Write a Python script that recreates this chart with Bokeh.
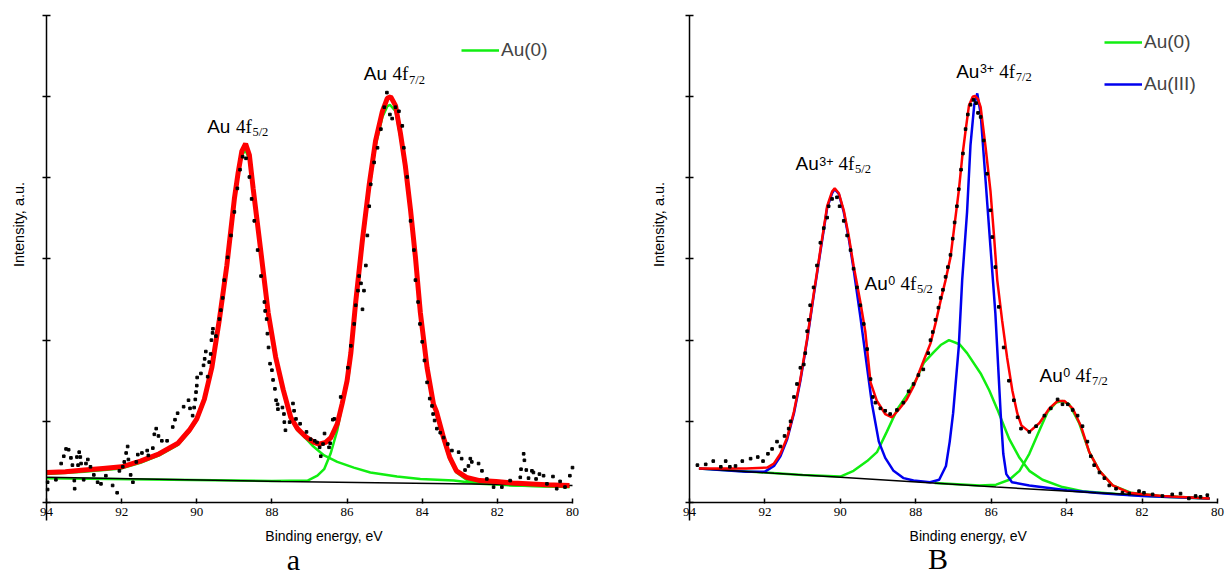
import math
from bokeh.plotting import figure
from bokeh.models import Label, Legend, LegendItem, FixedTicker
from bokeh.layouts import row
from bokeh.embed import file_html
from bokeh.resources import INLINE

# ---------------- data: panel a ----------------
x_ticks = [94, 92, 90, 88, 86, 84, 82, 80]
y_ticks = [0, 1, 2, 3, 4, 5, 6]

a_base_E = [94.0, 87.76, 80.0]
a_base_I = [0.31, 0.26, 0.21]

a_fit_E = [94.0, 93.5, 93.0, 92.5, 92.0, 91.5, 91.0, 90.5, 90.2, 90.0, 89.8, 89.6, 89.4, 89.2,
           89.0, 88.9, 88.8, 88.7, 88.6, 88.5, 88.3, 88.1, 87.9, 87.7, 87.5, 87.32, 87.1, 86.88,
           86.75, 86.57, 86.43, 86.26, 86.13, 86.0, 85.9, 85.77, 85.59, 85.41, 85.24, 85.06,
           84.93, 84.84, 84.71, 84.58, 84.45, 84.31, 84.18, 84.05, 83.87, 83.7, 83.62, 83.44,
           83.27, 83.09, 82.82, 82.47, 82.03, 81.59, 80.7, 80.08]
a_fit_I = [0.37, 0.38, 0.40, 0.42, 0.44, 0.51, 0.60, 0.73, 0.89, 1.03, 1.27, 1.66, 2.25, 2.92,
           3.74, 4.06, 4.33, 4.42, 4.28, 3.87, 3.11, 2.34, 1.79, 1.39, 1.05, 0.91, 0.81, 0.74,
           0.72, 0.74, 0.80, 0.97, 1.22, 1.50, 1.84, 2.47, 3.24, 3.92, 4.46, 4.82,
           4.98, 5.00, 4.89, 4.55, 4.15, 3.60, 3.02, 2.34, 1.66, 1.21, 1.12, 0.81,
           0.56, 0.39, 0.31, 0.27, 0.26, 0.24, 0.22, 0.21]

a_au0_52_E = [94.0, 93.0, 92.0, 91.5, 91.0, 90.5, 90.2, 90.0, 89.8, 89.6, 89.4, 89.2, 89.0, 88.9,
              88.8, 88.7, 88.6, 88.5, 88.3, 88.1, 87.9, 87.7, 87.5, 87.32, 87.1, 86.92, 86.61,
              86.26, 85.82, 85.38, 84.67, 84.05, 83.16, 82.47, 81.59, 80.08]
a_au0_52_I = [0.35, 0.38, 0.42, 0.49, 0.58, 0.71, 0.87, 1.01, 1.25, 1.64, 2.23, 2.90, 3.72, 4.03,
              4.28, 4.34, 4.22, 3.83, 3.08, 2.31, 1.77, 1.37, 1.03, 0.89, 0.79, 0.70, 0.58,
              0.50, 0.43, 0.37, 0.32, 0.29, 0.27, 0.23, 0.21, 0.19]

a_au0_72_E = [94.0, 88.0, 87.05, 86.79, 86.61, 86.44, 86.26, 86.09, 85.96, 85.77, 85.59, 85.41,
              85.24, 85.06, 84.93, 84.86, 84.71, 84.58, 84.45, 84.31, 84.18, 84.05, 83.87, 83.7,
              83.62, 83.44, 83.27, 83.09, 82.82, 82.47, 81.5, 80.08]
a_au0_72_I = [0.30, 0.265, 0.27, 0.33, 0.41, 0.60, 0.89, 1.30, 1.55, 2.40, 3.18, 3.86,
              4.40, 4.75, 4.88, 4.90, 4.82, 4.50, 4.10, 3.55, 2.97, 2.30, 1.62, 1.18,
              1.10, 0.78, 0.53, 0.37, 0.28, 0.24, 0.21, 0.19]

a_dot_E = [93.97, 93.97, 93.75, 93.61, 93.54, 93.48, 93.41, 93.35, 93.31, 93.26, 93.25, 93.19,
           93.16, 93.13, 93.10, 93.08, 93.01, 92.95, 92.90, 92.83, 92.74, 92.64, 92.55, 92.42,
           92.24, 92.12, 92.06, 91.97, 91.93, 91.88, 91.84, 91.82, 91.76, 91.70, 91.61, 91.57,
           91.46, 91.32, 91.29, 91.17, 91.13, 91.08, 91.02, 90.93, 90.79, 90.64, 90.58, 90.51,
           90.35, 90.22, 90.18, 90.11, 90.07, 90.04, 90.02, 90.00, 89.99, 89.89, 89.82, 89.79,
           89.76, 89.71, 89.67, 89.63, 89.61, 89.58, 89.57, 89.49, 89.40, 89.36, 89.31, 89.27,
           89.18, 89.09, 89.00, 88.92, 88.85, 88.78, 88.69, 88.60, 88.54, 88.47, 88.38, 88.29,
           88.20, 88.18, 88.14, 88.12, 88.09, 88.05, 88.00, 87.97, 87.92, 87.89, 87.85, 87.84,
           87.72, 87.68, 87.67, 87.64, 87.53, 87.44, 87.41, 87.36, 87.25, 87.08, 86.97, 86.86,
           86.80, 86.73, 86.70, 86.64, 86.60, 86.48, 86.45, 86.38, 86.34, 86.17, 85.98, 85.90,
           85.81, 85.77, 85.71, 85.68, 85.63, 85.59, 85.55, 85.50, 85.46, 85.41, 85.37, 85.28,
           85.19, 85.10, 85.01, 84.94, 84.86, 84.80, 84.71, 84.62, 84.53, 84.49, 84.40, 84.31,
           84.22, 84.18, 84.11, 84.06, 84.00, 83.94, 83.87, 83.80, 83.74, 83.71, 83.67, 83.61,
           83.52, 83.43, 83.32, 83.21, 83.03, 82.95, 82.86, 82.77, 82.72, 82.68, 82.50, 82.41,
           82.28, 82.10, 81.88, 81.66, 81.39, 81.37, 81.30, 81.28, 81.23, 81.17, 81.08, 81.04,
           80.97, 80.88, 80.77, 80.68, 80.52, 80.42, 80.33, 80.20, 80.07, 80.00]
a_dot_I = [0.25, 0.16, 0.28, 0.48, 0.57, 0.66, 0.65, 0.55, 0.46, 0.27, 0.17, 0.56,
           0.46, 0.62, 0.56, 0.48, 0.28, 0.48, 0.53, 0.44, 0.34, 0.25, 0.23, 0.33,
           0.21, 0.12, 0.39, 0.44, 0.50, 0.61, 0.69, 0.53, 0.34, 0.25, 0.50, 0.59,
           0.61, 0.64, 0.58, 0.67, 0.84, 0.91, 0.82, 0.76, 0.76, 0.93, 1.02, 1.10,
           1.18, 1.26, 1.16, 1.07, 1.17, 1.27, 1.36, 1.44, 1.54, 1.59, 1.69, 1.77,
           1.86, 1.55, 1.73, 1.83, 2.00, 2.09, 2.14, 2.05, 2.26, 2.37, 2.52, 2.74,
           3.02, 3.29, 3.58, 3.87, 4.10, 4.26, 4.24, 4.01, 3.74, 3.47, 3.11, 2.79,
           2.47, 2.36, 2.26, 2.08, 1.91, 1.71, 1.63, 1.51, 1.40, 1.26, 1.21, 1.15,
           1.17, 1.09, 0.99, 0.89, 0.99, 1.22, 1.13, 1.03, 0.97, 0.87, 0.78, 0.76,
           0.74, 0.68, 0.57, 0.72, 0.85, 0.68, 0.73, 1.02, 1.03, 1.30, 1.66, 1.93,
           2.20, 2.43, 2.61, 2.79, 2.70, 2.38, 2.61, 2.92, 3.29, 3.65, 3.92, 4.19,
           4.37, 4.60, 4.87, 5.05, 4.78, 4.73, 4.87, 4.82, 4.64, 4.37, 4.01, 3.47,
           3.11, 2.74, 2.47, 2.20, 1.98, 1.75, 1.48, 1.28, 1.19, 1.09, 1.01, 0.91,
           0.86, 0.80, 0.72, 0.64, 0.62, 0.54, 0.40, 0.45, 0.54, 0.50, 0.48, 0.39,
           0.29, 0.19, 0.19, 0.27, 0.31, 0.41, 0.60, 0.52, 0.40, 0.30, 0.39, 0.37,
           0.29, 0.35, 0.33, 0.23, 0.32, 0.17, 0.26, 0.19, 0.33, 0.43]

# ---------------- data: panel B ----------------
b_base_E = [93.75, 91.76, 90.0, 87.34, 85.87, 83.22, 81.46, 80.21]
b_base_I = [0.42, 0.36, 0.31, 0.235, 0.19, 0.12, 0.08, 0.05]

b_fit_E = [93.75, 93.0, 92.5, 91.94, 91.76, 91.59, 91.41, 91.23, 91.06, 90.88, 90.71, 90.53,
           90.35, 90.22, 90.15, 90.04, 89.91, 89.78, 89.65, 89.47, 89.34, 89.2, 89.03, 88.81,
           88.63, 88.46, 88.24, 88.06, 87.79, 87.61, 87.48, 87.34, 87.21, 87.08, 86.97, 86.86,
           86.77, 86.68, 86.59, 86.49, 86.43, 86.35, 86.28, 86.15, 86.02, 85.93, 85.84, 85.71,
           85.58, 85.44, 85.31, 85.2, 84.99, 84.72, 84.46, 84.24, 84.06, 83.84, 83.62, 83.4,
           83.13, 82.78, 82.34, 81.9, 81.46, 80.21]
b_fit_I = [0.42, 0.42, 0.42, 0.43, 0.48, 0.60, 0.80, 1.12, 1.52, 2.02, 2.56, 3.11,
           3.65, 3.83, 3.87, 3.81, 3.60, 3.29, 2.92, 2.47, 2.11, 1.48, 1.25, 1.09,
           1.05, 1.14, 1.27, 1.43, 1.75, 1.96, 2.20, 2.49, 2.74, 3.02, 3.43, 3.84,
           4.25, 4.58, 4.89, 5.00, 5.01, 4.97, 4.87, 4.38, 3.84, 3.31, 2.74, 2.24,
           1.79, 1.38, 1.10, 0.95, 0.87, 0.98, 1.16, 1.25, 1.25, 1.16, 0.94, 0.62,
           0.39, 0.21, 0.12, 0.10, 0.08, 0.05]

b_au3_E = [93.75, 92.5, 92.0, 91.76, 91.59, 91.41, 91.23, 91.06, 90.88, 90.71, 90.53, 90.35,
           90.22, 90.15, 90.04, 89.91, 89.78, 89.65, 89.47, 89.29, 89.16, 88.98, 88.81, 88.59,
           88.32, 88.06, 87.62, 87.38, 87.2, 87.1, 87.01, 86.86, 86.77, 86.64, 86.55, 86.45,
           86.37, 86.28, 86.15, 86.02, 85.89, 85.75, 85.68, 85.6, 85.45, 84.99, 84.0, 83.0,
           82.0, 80.21]
b_au3_I = [0.42, 0.38, 0.38, 0.45, 0.57, 0.78, 1.10, 1.50, 2.00, 2.54, 3.09, 3.63,
           3.81, 3.86, 3.80, 3.58, 3.26, 2.88, 2.29, 1.66, 1.21, 0.75, 0.55, 0.39,
           0.30, 0.27, 0.25, 0.28, 0.45, 0.75, 1.10, 1.92, 2.74, 3.58, 4.40, 4.90,
           5.04, 4.79, 3.97, 3.15, 2.33, 1.10, 0.60, 0.35, 0.25, 0.21, 0.15, 0.11,
           0.08, 0.05]

b_au0_52_E = [93.75, 92.0, 91.0, 90.0, 89.65, 89.29, 89.03, 88.77, 88.49, 88.24, 87.97, 87.79,
              87.53, 87.34, 87.12, 86.84, 86.64, 86.28, 86.05, 85.84, 85.52, 85.25, 84.99, 84.64,
              84.11, 83.58, 82.5, 81.5, 80.21]
b_au0_52_I = [0.42, 0.37, 0.34, 0.32, 0.39, 0.51, 0.62, 0.87, 1.15, 1.32, 1.53, 1.72,
              1.85, 1.94, 2.00, 1.95, 1.84, 1.59, 1.38, 1.15, 0.78, 0.55, 0.39, 0.28,
              0.19, 0.14, 0.10, 0.07, 0.05]

b_au0_72_E = [87.5, 86.31, 85.87, 85.52, 85.25, 84.99, 84.72, 84.5, 84.28, 84.11, 83.93, 83.67,
              83.4, 83.13, 82.78, 82.3, 81.5, 80.21]
b_au0_72_I = [0.24, 0.21, 0.22, 0.28, 0.39, 0.60, 0.89, 1.12, 1.23, 1.25, 1.21, 0.98,
              0.62, 0.39, 0.21, 0.12, 0.08, 0.05]

b_dot_E = [93.79, 93.57, 93.37, 93.17, 93.04, 92.93, 92.78, 92.60, 92.38, 92.19, 92.05, 91.92,
           91.81, 91.68, 91.59, 91.48, 91.37, 91.32, 91.23, 91.15, 91.06, 90.97, 90.93, 90.88,
           90.84, 90.80, 90.71, 90.62, 90.53, 90.44, 90.35, 90.31, 90.22, 90.09, 90.02, 89.91,
           89.82, 89.73, 89.65, 89.56, 89.47, 89.38, 89.29, 89.20, 89.14, 89.07, 88.94, 88.81,
           88.68, 88.50, 88.33, 88.19, 88.06, 87.93, 87.80, 87.67, 87.61, 87.55, 87.48, 87.40,
           87.34, 87.28, 87.21, 87.15, 87.08, 87.02, 86.97, 86.91, 86.86, 86.80, 86.75, 86.68,
           86.62, 86.55, 86.47, 86.40, 86.35, 86.28, 86.20, 86.11, 86.02, 85.97, 85.89, 85.80,
           85.67, 85.53, 85.40, 85.30, 85.21, 84.99, 84.81, 84.59, 84.42, 84.24, 84.11, 83.97,
           83.84, 83.71, 83.58, 83.45, 83.36, 83.27, 83.13, 83.00, 82.87, 82.69, 82.52, 82.34,
           82.08, 81.95, 81.72, 81.46, 81.20, 80.98, 80.76, 80.58, 80.45, 80.27]
b_dot_I = [0.46, 0.47, 0.51, 0.44, 0.51, 0.44, 0.45, 0.51, 0.54, 0.56, 0.51, 0.60,
           0.66, 0.75, 0.69, 0.82, 0.91, 1.00, 1.30, 1.46, 1.66, 1.70, 1.84, 2.11,
           2.25, 2.43, 2.65, 2.92, 3.20, 3.38, 3.51, 3.65, 3.74, 3.76, 3.65, 3.47,
           3.29, 3.11, 2.88, 2.65, 2.43, 2.20, 1.89, 1.52, 1.30, 1.23, 1.16, 1.13,
           1.09, 1.14, 1.23, 1.37, 1.46, 1.57, 1.64, 1.84, 2.00, 2.10, 2.25, 2.40,
           2.52, 2.62, 2.78, 2.90, 3.05, 3.25, 3.45, 3.65, 3.86, 4.10, 4.30, 4.60,
           4.78, 4.90, 4.96, 4.92, 4.80, 4.75, 4.46, 4.05, 3.60, 3.27, 2.90, 2.41,
           1.91, 1.50, 1.26, 1.05, 0.91, 0.87, 0.94, 1.07, 1.16, 1.27, 1.21, 1.21,
           1.14, 1.07, 0.94, 0.75, 0.57, 0.46, 0.37, 0.30, 0.21, 0.17, 0.12, 0.11,
           0.14, 0.12, 0.10, 0.08, 0.10, 0.11, 0.05, 0.08, 0.07, 0.09]

# ---------------- layout helpers (page pixels -> data) ----------------
PAGE_W, PAGE_H = 1229, 575
SPLIT = 645                      # page x where panel B's canvas starts
AXIS_PX = {"a": (46, 572), "b": (689, 1217)}
ZERO_PX, PX_PER_UNIT = 502.0, 81.17
Y_START = -(520 - ZERO_PX) / PX_PER_UNIT

GREEN, BLUE, RED = "#11ee11", "#0000ee", "#ff0000"


def ex(panel, px):
    x0, x1 = AXIS_PX[panel]
    return 94 - (px - x0) * 14.0 / (x1 - x0)


def vy(py):
    return (ZERO_PX - py) / PX_PER_UNIT


SANS = "Liberation Sans"
SERIF = "Liberation Serif"


def make_fig(panel, left_px, right_px):
    p = figure(x_range=(ex(panel, left_px), ex(panel, right_px)),
               y_range=(vy(PAGE_H), vy(0)),
               width=right_px - left_px, height=PAGE_H,
               min_border=0, min_border_left=0, min_border_right=0,
               min_border_top=0, min_border_bottom=0,
               output_backend="svg", toolbar_location=None)
    p.outline_line_color = None
    p.xgrid.visible = False
    p.ygrid.visible = False
    p.background_fill_color = "white"
    p.border_fill_color = "white"
    xa = p.xaxis[0]
    xa.fixed_location = 0
    xa.bounds = (80, 94)
    xa.ticker = FixedTicker(ticks=x_ticks)
    xa.major_tick_in = 4
    xa.major_tick_out = 1
    xa.minor_tick_line_color = None
    xa.axis_line_width = 1.5
    xa.major_tick_line_width = 1.5
    xa.major_label_text_font = SERIF
    xa.major_label_text_font_size = "13px"
    xa.major_label_text_color = "black"
    xa.major_label_standoff = 4
    ya = p.yaxis[0]
    ya.fixed_location = 94
    ya.bounds = (Y_START, 6.0)
    ya.ticker = FixedTicker(ticks=y_ticks)
    ya.major_tick_in = 4
    ya.major_tick_out = 4
    ya.minor_tick_line_color = None
    ya.axis_line_width = 1.5
    ya.major_tick_line_width = 1.5
    ya.major_label_overrides = {t: "" for t in y_ticks}
    return p


def txt(p, panel, px, py, text, font, size, align="left", angle=0):
    # py is the visual middle of the text line
    p.add_layout(Label(x=ex(panel, px), y=vy(py), text=text, text_font=font,
                       text_font_size=size, text_color="black", text_align=align,
                       text_baseline="middle", angle=angle))


def peak_label(p, panel, px, base, sup, sub, au_w=23.2):
    txt(p, panel, px, base - 6.7, "Au", SANS, "19px")
    x = px + au_w
    if sup:
        txt(p, panel, x + 0.5, base - 9.5, sup, SANS, "12.5px")
        x += 7.2 * len(sup)
    txt(p, panel, x + 5.5, base - 6.7, "4f", SERIF, "19px")
    txt(p, panel, x + 22, base - 1.1, sub, SERIF, "12.5px")


def make_legend(items, loc):
    return Legend(items=items, location=loc, label_text_font=SANS, label_text_font_size="19px",
                  glyph_width=38, glyph_height=20, label_height=20, spacing=20, padding=0,
                  margin=0, border_line_color=None, background_fill_alpha=0, label_standoff=2)


# ---------------- panel a ----------------
pa = make_fig("a", 0, SPLIT)
g1 = pa.line(a_au0_52_E, a_au0_52_I, line_color=GREEN, line_width=2.5)
pa.line(a_au0_72_E, a_au0_72_I, line_color=GREEN, line_width=2.5)
pa.line(a_base_E, a_base_I, line_color="black", line_width=1.5)
pa.line(a_fit_E, a_fit_I, line_color=RED, line_width=5)
pa.scatter(a_dot_E, a_dot_I, marker="square", size=2.6, color="black")

peak_label(pa, "a", 206.7, 132.4, "", "5/2")
peak_label(pa, "a", 363.3, 80.1, "", "7/2")
txt(pa, "a", 18, 224, "Intensity, a.u.", SANS, "14.5px", align="center", angle=math.pi / 2)
txt(pa, "a", 323.5, 535, "Binding energy, eV", SANS, "14px", align="center")
txt(pa, "a", 293, 559, "a", SERIF, "30px", align="center")
pa.add_layout(make_legend([LegendItem(label="Au(0)", renderers=[g1])], (461, 514)))

# ---------------- panel B ----------------
pb = make_fig("b", SPLIT, PAGE_W)
gb = pb.line(b_au0_52_E, b_au0_52_I, line_color=GREEN, line_width=2.5)
pb.line(b_au0_72_E, b_au0_72_I, line_color=GREEN, line_width=2.5)
bb = pb.line(b_au3_E, b_au3_I, line_color=BLUE, line_width=2.5)
pb.line(b_base_E, b_base_I, line_color="black", line_width=1.5)
pb.line(b_fit_E, b_fit_I, line_color=RED, line_width=2.5)
pb.scatter(b_dot_E, b_dot_I, marker="square", size=2.6, color="black")

peak_label(pb, "b", 795, 170, "3+", "5/2")
peak_label(pb, "b", 864, 289.7, "0", "5/2")
peak_label(pb, "b", 955.7, 77.2, "3+", "7/2")
peak_label(pb, "b", 1039, 381.6, "0", "7/2")
txt(pb, "b", 658, 224, "Intensity, a.u.", SANS, "14.5px", align="center", angle=math.pi / 2)
txt(pb, "b", 967.7, 535, "Binding energy, eV", SANS, "14px", align="center")
txt(pb, "b", 937.5, 558, "B", SERIF, "30px", align="center")
pb.add_layout(make_legend([LegendItem(label="Au(0)", renderers=[gb]),
                           LegendItem(label="Au(III)", renderers=[bb])], (459, 480)))

layout = row(pa, pb)
open("out.html", "w").write(file_html(layout, INLINE))
